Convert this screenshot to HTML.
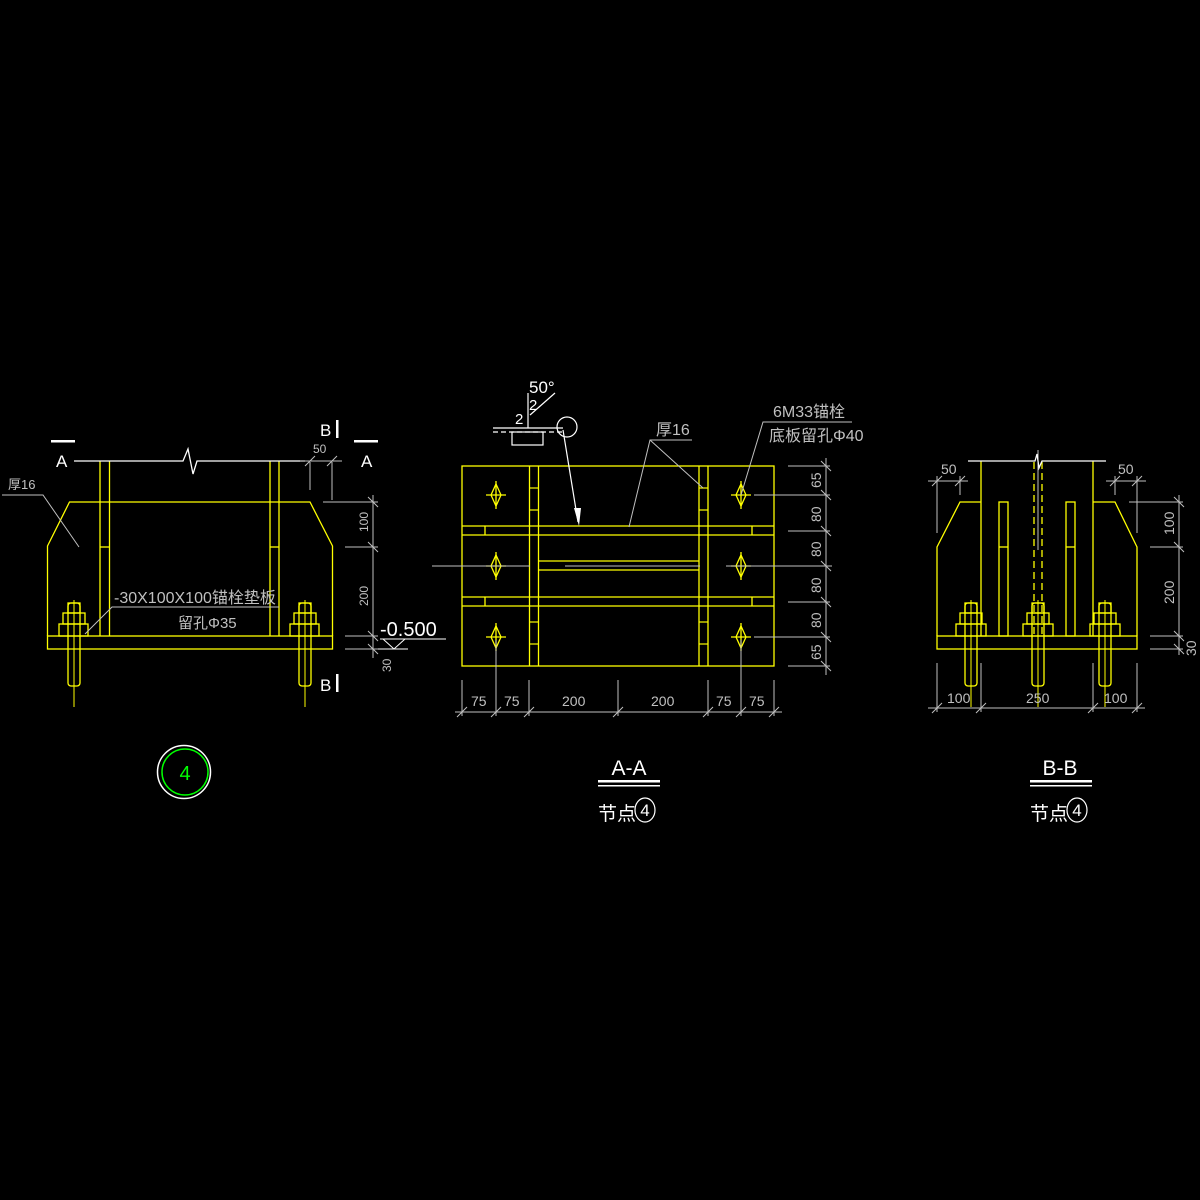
<!DOCTYPE html>
<html><head><meta charset="utf-8"><style>html,body{margin:0;background:#000}svg{display:block}</style></head><body>
<svg width="1200" height="1200" viewBox="0 0 1200 1200" xmlns="http://www.w3.org/2000/svg" font-family="Liberation Sans, Noto Sans CJK SC, sans-serif">
<rect width="1200" height="1200" fill="#000"/>
<!-- LEFT VIEW -->
<g fill="none" stroke="#ffff00" stroke-width="1.3">
<rect x="47.5" y="636" width="285" height="13"/>
<polyline points="47.5,636 47.5,546 69.5,502 310,502 332.5,546 332.5,636"/>
<line x1="100" y1="461" x2="100" y2="636"/><line x1="109.5" y1="461" x2="109.5" y2="636"/>
<line x1="270" y1="461" x2="270" y2="636"/><line x1="279" y1="461" x2="279" y2="636"/>
<line x1="100" y1="547" x2="109.5" y2="547"/><line x1="270" y1="547" x2="279" y2="547"/>
<g id="bl">
<rect x="68" y="603" width="12" height="83" rx="3"/>
<rect x="59" y="624" width="29" height="12"/><rect x="63" y="613" width="22" height="11"/><rect x="68" y="603" width="12" height="10"/>
</g>
<use href="#bl" x="231"/>
</g>
<g stroke="#ffff00" stroke-width="1"><line x1="74" y1="600" x2="74" y2="707"/><line x1="305" y1="600" x2="305" y2="707"/></g>
<polyline fill="none" stroke="#fff" stroke-width="1.3" points="74,461 183,461 188,449 193,474 197,461 305,461"/>
<g fill="#fff" stroke="none">
<rect x="51" y="440" width="24" height="2.5"/><rect x="354" y="440" width="24" height="2.5"/>
<rect x="336" y="420" width="2.5" height="18"/><rect x="336" y="674" width="2.5" height="18"/>
</g>
<g fill="#fff" font-size="17"><text x="56" y="467">A</text><text x="361" y="467">A</text><text x="320" y="436">B</text><text x="320" y="691">B</text></g>
<g stroke="#c0c0c0" stroke-width="1" fill="none">
<polyline points="2,495 43,495 79,547"/>
<polyline points="279,607 112,607 85,634"/>
<line x1="300" y1="461" x2="342" y2="461"/><line x1="310" y1="462" x2="310" y2="490"/><line x1="332" y1="462" x2="332" y2="500"/>
<line x1="323" y1="502" x2="378" y2="502"/><line x1="345" y1="547" x2="378" y2="547"/><line x1="345" y1="636" x2="378" y2="636"/><line x1="345" y1="649" x2="378" y2="649"/>
<line x1="373" y1="495" x2="373" y2="658"/>
<line x1="368" y1="497" x2="378" y2="507"/><line x1="368" y1="542" x2="378" y2="552"/><line x1="368" y1="631" x2="378" y2="641"/><line x1="368" y1="644" x2="378" y2="654"/>
<line x1="305" y1="466" x2="315" y2="456"/><line x1="327" y1="466" x2="337" y2="456"/>
</g>
<g fill="#c0c0c0" font-size="13">
<text x="8" y="489">厚16</text>
<text x="114" y="603" font-size="16">-30X100X100锚栓垫板</text>
<text x="178" y="628" font-size="15">留孔Φ35</text>
<text x="313" y="453" font-size="12">50</text>
<text transform="translate(368,532) rotate(-90)" font-size="12">100</text>
<text transform="translate(368,606) rotate(-90)" font-size="12">200</text>
<text transform="translate(391,672) rotate(-90)" font-size="12">30</text>
</g>
<text x="380" y="636" fill="#fff" font-size="20">-0.500</text>
<g stroke="#fff" stroke-width="1" fill="none"><line x1="380" y1="639" x2="446" y2="639"/><polyline points="383,639 394,649 405,639"/><line x1="378" y1="649" x2="408" y2="649"/></g>
<circle cx="184" cy="772" r="26.5" fill="none" stroke="#fff" stroke-width="1.5"/>
<circle cx="185" cy="772" r="23" fill="none" stroke="#00ff00" stroke-width="1.5"/>
<text x="185" y="780" fill="#00ff00" font-size="20" text-anchor="middle">4</text>

<!-- MIDDLE VIEW -->
<g fill="none" stroke="#ffff00" stroke-width="1.3">
<rect x="462" y="466" width="312" height="200"/>
<line x1="529.5" y1="466" x2="529.5" y2="666"/><line x1="538.5" y1="466" x2="538.5" y2="666"/>
<line x1="699" y1="466" x2="699" y2="666"/><line x1="708" y1="466" x2="708" y2="666"/>
<line x1="462" y1="526" x2="774" y2="526"/><line x1="462" y1="535" x2="774" y2="535"/>
<line x1="462" y1="597" x2="774" y2="597"/><line x1="462" y1="606" x2="774" y2="606"/>
<line x1="538" y1="561" x2="699" y2="561"/><line x1="538" y1="570" x2="699" y2="570"/>
<line x1="485" y1="526" x2="485" y2="535"/><line x1="485" y1="597" x2="485" y2="606"/>
<line x1="752" y1="526" x2="752" y2="535"/><line x1="752" y1="597" x2="752" y2="606"/>
<g stroke-width="1.2">
<line x1="529" y1="488" x2="539" y2="488"/><line x1="529" y1="510" x2="539" y2="510"/><line x1="529" y1="622" x2="539" y2="622"/><line x1="529" y1="644" x2="539" y2="644"/>
<line x1="699" y1="488" x2="708" y2="488"/><line x1="699" y1="510" x2="708" y2="510"/><line x1="699" y1="622" x2="708" y2="622"/><line x1="699" y1="644" x2="708" y2="644"/>
</g>
<g id="dh"><polygon points="496,484 501,495 496,506 491,495"/><line x1="486" y1="495" x2="506" y2="495"/><line x1="496" y1="481" x2="496" y2="509"/></g>
<use href="#dh" y="71"/><use href="#dh" y="142"/><use href="#dh" x="245"/><use href="#dh" x="245" y="71"/><use href="#dh" x="245" y="142"/>
</g>
<g stroke="#c0c0c0" stroke-width="1" fill="none">
<line x1="432" y1="566" x2="530" y2="566"/><line x1="565" y1="566" x2="700" y2="566"/><line x1="726" y1="566" x2="832" y2="566"/>
<line x1="754" y1="495" x2="830" y2="495"/><line x1="754" y1="637" x2="830" y2="637"/>
<line x1="788" y1="466" x2="830" y2="466"/><line x1="788" y1="531" x2="830" y2="531"/><line x1="788" y1="602" x2="830" y2="602"/><line x1="788" y1="666" x2="830" y2="666"/>
<line x1="826" y1="458" x2="826" y2="675"/>
<line x1="821" y1="461" x2="831" y2="471"/><line x1="821" y1="490" x2="831" y2="500"/><line x1="821" y1="526" x2="831" y2="536"/><line x1="821" y1="561" x2="831" y2="571"/><line x1="821" y1="597" x2="831" y2="607"/><line x1="821" y1="632" x2="831" y2="642"/><line x1="821" y1="661" x2="831" y2="671"/>
<line x1="455" y1="712" x2="782" y2="712"/>
<line x1="462" y1="680" x2="462" y2="716"/><line x1="496" y1="640" x2="496" y2="716"/><line x1="529" y1="680" x2="529" y2="716"/><line x1="618" y1="680" x2="618" y2="716"/><line x1="708" y1="680" x2="708" y2="716"/><line x1="741" y1="640" x2="741" y2="716"/><line x1="774" y1="680" x2="774" y2="716"/>
<line x1="457" y1="717" x2="467" y2="707"/><line x1="491" y1="717" x2="501" y2="707"/><line x1="524" y1="717" x2="534" y2="707"/><line x1="613" y1="717" x2="623" y2="707"/><line x1="703" y1="717" x2="713" y2="707"/><line x1="736" y1="717" x2="746" y2="707"/><line x1="769" y1="717" x2="779" y2="707"/>
<polyline points="852,422 763,422 741,495"/>
<polyline points="692,440 650,440 629,527"/><line x1="650" y1="440" x2="703" y2="488"/>
</g>
<g fill="#c0c0c0" font-size="14">
<text x="773" y="417" font-size="16">6M33锚栓</text>
<text x="769" y="441" font-size="16">底板留孔Φ40</text>
<text x="656" y="435" font-size="16">厚16</text>
<g font-size="14"><text x="471" y="706">75</text><text x="504" y="706">75</text><text x="562" y="706">200</text><text x="651" y="706">200</text><text x="716" y="706">75</text><text x="749" y="706">75</text></g>
<g font-size="14">
<text transform="translate(821,488) rotate(-90)">65</text>
<text transform="translate(821,522) rotate(-90)">80</text>
<text transform="translate(821,557) rotate(-90)">80</text>
<text transform="translate(821,593) rotate(-90)">80</text>
<text transform="translate(821,628) rotate(-90)">80</text>
<text transform="translate(821,660) rotate(-90)">65</text>
</g>
</g>
<!-- weld symbol -->
<g stroke="#fff" stroke-width="1.2" fill="none">
<line x1="493" y1="428" x2="563" y2="428"/><line x1="493" y1="432" x2="563" y2="432" stroke-dasharray="5,3"/>
<rect x="512" y="432" width="31" height="13"/>
<line x1="528" y1="393" x2="528" y2="428"/><line x1="555" y1="393" x2="530" y2="415"/>
<circle cx="567" cy="427" r="10"/>
<line x1="563" y1="430" x2="578" y2="522"/>
</g>
<polygon points="574,508 581,508 579,526" fill="#fff"/>
<g fill="#fff"><text x="529" y="393" font-size="17">50°</text><text x="529" y="410" font-size="15">2</text><text x="515" y="424" font-size="15">2</text></g>
<!-- titles -->
<g fill="#fff">
<text x="629" y="775" font-size="21" text-anchor="middle">A-A</text>
<rect x="598" y="780" width="62" height="2.5"/><rect x="598" y="785" width="62" height="1.5"/>
<text x="598" y="820" font-size="19">节点</text>
<text x="1060" y="775" font-size="21" text-anchor="middle">B-B</text>
<rect x="1030" y="780" width="62" height="2.5"/><rect x="1030" y="785" width="62" height="1.5"/>
<text x="1030" y="820" font-size="19">节点</text>
</g>
<g fill="none" stroke="#fff" stroke-width="1.2"><ellipse cx="645" cy="810" rx="10" ry="12"/><ellipse cx="1077" cy="810" rx="10" ry="12"/></g>
<g fill="#fff" font-size="17" text-anchor="middle"><text x="645" y="816">4</text><text x="1077" y="816">4</text></g>

<!-- RIGHT VIEW -->
<g fill="none" stroke="#ffff00" stroke-width="1.3">
<rect x="937" y="636" width="200" height="13"/>
<polyline points="937,636 937,547 960,502 981,502"/>
<polyline points="1093,502 1115,502 1137,547 1137,636"/>
<line x1="981" y1="461" x2="981" y2="636"/><line x1="1093" y1="461" x2="1093" y2="636"/>
<rect x="999" y="502" width="9" height="134"/><rect x="1066" y="502" width="9" height="134"/>
<line x1="999" y1="547" x2="1008" y2="547"/><line x1="1066" y1="547" x2="1075" y2="547"/>
<line x1="1034" y1="462" x2="1034" y2="636" stroke-dasharray="7,4"/><line x1="1042" y1="462" x2="1042" y2="636" stroke-dasharray="7,4"/>
<g id="br">
<rect x="965" y="603" width="12" height="83" rx="3"/>
<rect x="956" y="624" width="30" height="12"/><rect x="960" y="613" width="22" height="11"/><rect x="965" y="603" width="12" height="10"/>
</g>
<use href="#br" x="67"/><use href="#br" x="134"/>
</g>
<g stroke="#ffff00" stroke-width="1"><line x1="971" y1="600" x2="971" y2="707"/><line x1="1038" y1="600" x2="1038" y2="707"/><line x1="1105" y1="600" x2="1105" y2="707"/></g>
<line x1="1038" y1="450" x2="1038" y2="550" stroke="#c0c0c0" stroke-width="1"/>
<polyline fill="none" stroke="#fff" stroke-width="1.3" points="968,461 1035,461 1037,454 1039,468 1042,461 1106,461"/>
<g stroke="#c0c0c0" stroke-width="1" fill="none">
<line x1="928" y1="481" x2="968" y2="481"/><line x1="937" y1="476" x2="937" y2="533"/><line x1="960" y1="476" x2="960" y2="495"/>
<line x1="932" y1="486" x2="942" y2="476"/><line x1="955" y1="486" x2="965" y2="476"/>
<line x1="1106" y1="481" x2="1146" y2="481"/><line x1="1115" y1="476" x2="1115" y2="495"/><line x1="1137" y1="476" x2="1137" y2="533"/>
<line x1="1110" y1="486" x2="1120" y2="476"/><line x1="1132" y1="486" x2="1142" y2="476"/>
<line x1="1129" y1="502" x2="1183" y2="502"/><line x1="1150" y1="547" x2="1183" y2="547"/><line x1="1150" y1="636" x2="1183" y2="636"/><line x1="1150" y1="649" x2="1183" y2="649"/>
<line x1="1179" y1="495" x2="1179" y2="655"/>
<line x1="1174" y1="497" x2="1184" y2="507"/><line x1="1174" y1="542" x2="1184" y2="552"/><line x1="1174" y1="631" x2="1184" y2="641"/><line x1="1174" y1="644" x2="1184" y2="654"/>
<line x1="928" y1="708" x2="1145" y2="708"/>
<line x1="937" y1="663" x2="937" y2="712"/><line x1="981" y1="663" x2="981" y2="712"/><line x1="1093" y1="663" x2="1093" y2="712"/><line x1="1137" y1="663" x2="1137" y2="712"/>
<line x1="932" y1="713" x2="942" y2="703"/><line x1="976" y1="713" x2="986" y2="703"/><line x1="1088" y1="713" x2="1098" y2="703"/><line x1="1132" y1="713" x2="1142" y2="703"/>
</g>
<g fill="#c0c0c0" font-size="14">
<text x="941" y="474">50</text><text x="1118" y="474">50</text>
<text x="947" y="703">100</text><text x="1026" y="703">250</text><text x="1104" y="703">100</text>
<text transform="translate(1174,535) rotate(-90)">100</text>
<text transform="translate(1174,604) rotate(-90)">200</text>
<text transform="translate(1196,656) rotate(-90)">30</text>
</g>
</svg>
</body></html>
